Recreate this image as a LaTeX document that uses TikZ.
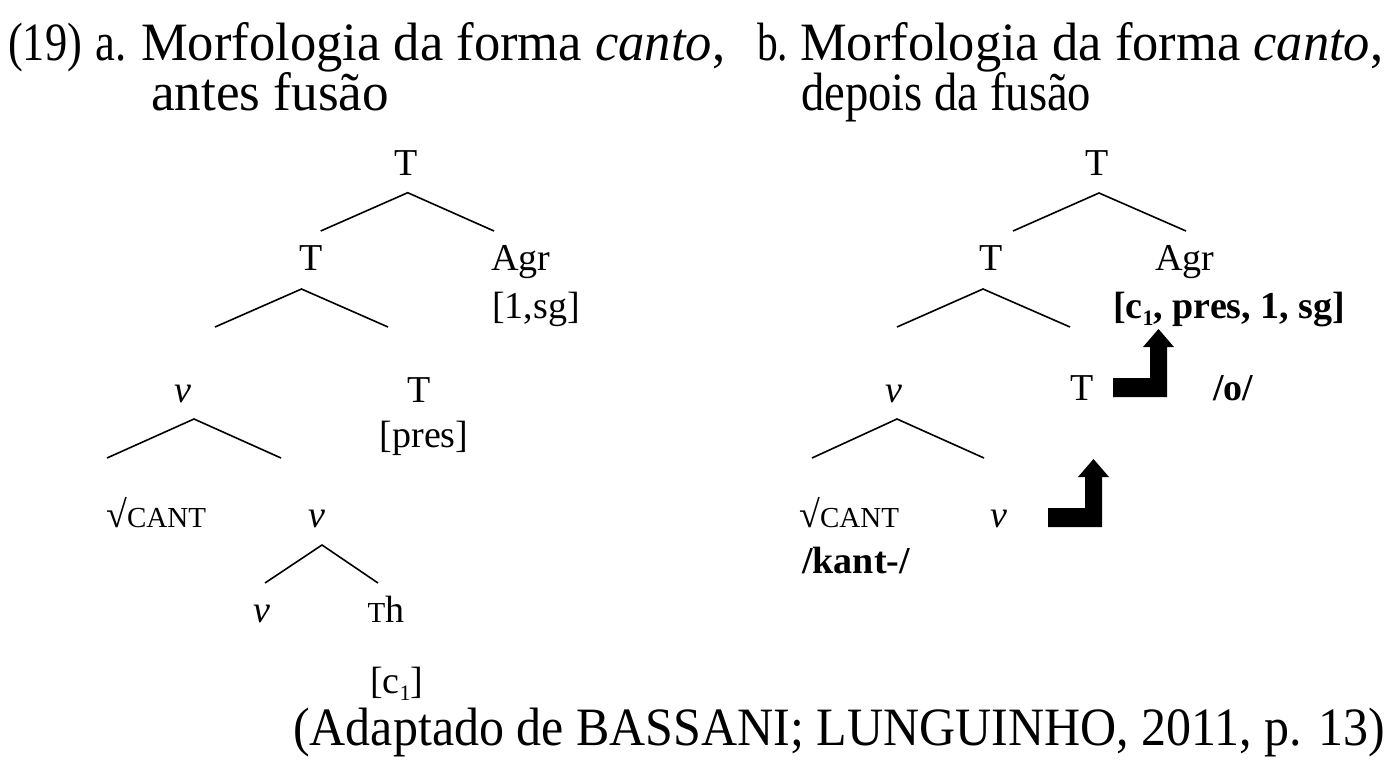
\documentclass[tikz,border=0pt]{standalone}
\usepackage{fontspec}
\usepackage{graphicx}
\setmainfont{Liberation Serif}
\newcommand{\hdrfont}{\fontsize{54}{56}\selectfont}
\newcommand{\lblfont}{\fontsize{38}{40}\selectfont}
\newcommand{\smallcapsize}{\fontsize{29}{30}\selectfont}
\newcommand{\lowone}{\raisebox{-7pt}{\fontsize{22}{22}\selectfont 1}}
\begin{document}
\begin{tikzpicture}[x=1pt,y=-1pt,
  hdr/.style={inner sep=0pt, font=\hdrfont, anchor=base west},
  lbl/.style={inner sep=0pt, font=\lblfont, anchor=base},
  lblw/.style={lbl, anchor=base west},
  branch/.style={line width=1.6pt, line join=miter},
  fusearrow/.pic={
    \fill[black] (-54,0) -- (-54,-19) -- (-17,-19) -- (-17,-50) -- (-24,-50)
      -- (-8.5,-68) -- (7,-50) -- (0,-50) -- (0,0) -- cycle;
  }]
\useasboundingbox (0,0) rectangle (1393,761);

% headings
\node[hdr] (exno) at (8,60)    {\resizebox{74pt}{\height}{(19)}};
\node[hdr] (la)   at (95,60)   {\resizebox{31pt}{\height}{a.}};
\node[hdr] (ha1)  at (141,60)  {\resizebox{584pt}{\height}{Morfologia da forma \textit{canto},}};
\node[hdr] (ha2)  at (151,110) {\resizebox{238pt}{\height}{antes fusão}};
\node[hdr] (lb)   at (757,60)  {\resizebox{31pt}{\height}{b.}};
\node[hdr] (hb1)  at (800,60)  {\resizebox{583pt}{\height}{Morfologia da forma \textit{canto},}};
\node[hdr] (hb2)  at (801,110) {\resizebox{290pt}{\height}{depois da fusão}};
\node[hdr] (src)  at (293,745) {\resizebox{1092pt}{\height}{(Adaptado de BASSANI; LUNGUINHO, 2011, p. 13)}};

% tree a: before fusion
\node[lbl]  (tA0)   at (406,175)   {T};
\node[lbl]  (tA1)   at (311,270)   {T};
\node[lblw] (agrA)  at (491,270)   {Agr};
\node[lblw] (featA) at (492,318)   {[1,sg]};
\node[lbl]  (vA1)   at (183,402)   {\textit{v}};
\node[lbl]  (tA2)   at (419.5,402) {T};
\node[lbl]  (presA) at (424,447)   {[pres]};
\node[lblw] (rootA) at (106,527)   {√{\smallcapsize CANT}};
\node[lbl]  (vA2)   at (317,527)   {\textit{v}};
\node[lbl]  (vA3)   at (261.5,622) {\textit{v}};
\node[lbl]  (thA)   at (386,622)   {{\smallcapsize T}h};
\node[lblw] (cA)    at (370,693)   {[c\lowone]};

\coordinate (a0) at (407.7,192.7);
\coordinate (a0l) at (320.7,231); \coordinate (a0r) at (494,231);
\coordinate (a1) at (301.5,289);
\coordinate (a1l) at (215,327);   \coordinate (a1r) at (388,327);
\coordinate (a2) at (194,419);
\coordinate (a2l) at (107,458);   \coordinate (a2r) at (281,458);
\coordinate (a3) at (322,545);
\coordinate (a3l) at (265,583);   \coordinate (a3r) at (378,583);
\draw[branch] (a0l) -- (a0) -- (a0r);
\draw[branch] (a1l) -- (a1) -- (a1r);
\draw[branch] (a2l) -- (a2) -- (a2r);
\draw[branch] (a3l) -- (a3) -- (a3r);

% tree b: after fusion
\node[lbl]  (tB0)   at (1097,175)   {T};
\node[lbl]  (tB1)   at (991.5,270)  {T};
\node[lbl]  (agrB)  at (1185,270)   {Agr};
\node[lblw] (featB) at (1113,318)   {\textbf{[c\lowone, pres, 1, sg]}};
\node[lbl]  (vB1)   at (893.5,402)  {\textit{v}};
\node[lbl]  (tB2)   at (1082,400)   {T};
\node[lblw] (oB)    at (1213,400)   {\textbf{/o/}};
\node[lblw] (rootB) at (799,527)    {√{\smallcapsize CANT}};
\node[lbl]  (vB2)   at (999,527)    {\textit{v}};
\node[lblw] (kantB) at (802,573)    {\textbf{/kant-/}};

\coordinate (b0) at (1099,193);
\coordinate (b0l) at (1013,231); \coordinate (b0r) at (1186,231);
\coordinate (b1) at (983,289);
\coordinate (b1l) at (897,327);  \coordinate (b1r) at (1070,327);
\coordinate (b2) at (897,419);
\coordinate (b2l) at (812,458);  \coordinate (b2r) at (984,458);
\draw[branch] (b0l) -- (b0) -- (b0r);
\draw[branch] (b1l) -- (b1) -- (b1r);
\draw[branch] (b2l) -- (b2) -- (b2r);

% fusion arrows
\pic at (1167,397) {fusearrow};
\pic at (1102,527) {fusearrow};
\end{tikzpicture}
\end{document}
